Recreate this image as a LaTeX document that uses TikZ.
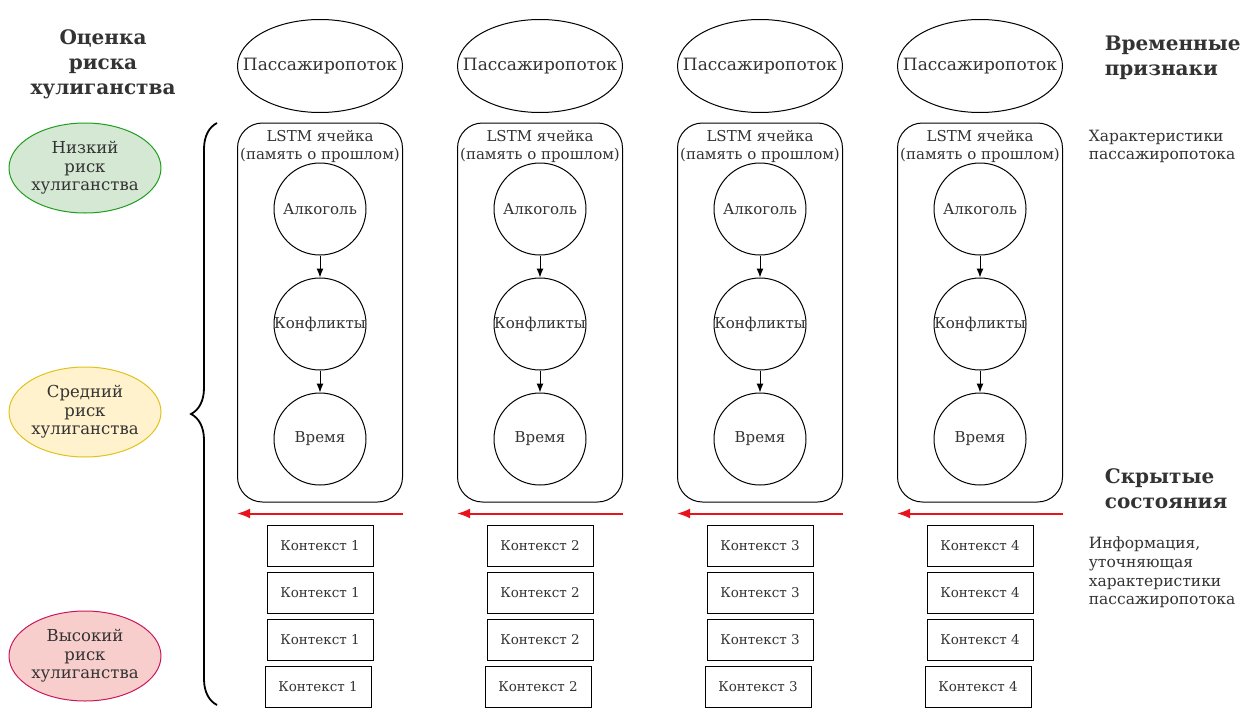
\documentclass[tikz,border=0pt]{standalone}
\usepackage{fontspec}
\setmainfont{DejaVu Serif}
\usetikzlibrary{arrows,arrows.meta,calc,shapes.geometric,decorations.pathreplacing}
\definecolor{txtgray}{HTML}{333333}
\definecolor{lowfill}{HTML}{D5E8D4}
\definecolor{lowline}{HTML}{1E9E1E}
\definecolor{midfill}{HTML}{FFF2CC}
\definecolor{midline}{HTML}{E0C21A}
\definecolor{highfill}{HTML}{F8CECC}
\definecolor{highline}{HTML}{C8185A}
\definecolor{flowred}{HTML}{E8141C}

\begin{document}
\begin{tikzpicture}[x=1pt,y=-1pt,
        %Option for nice arrows%
        >=latex,%
        line width=1pt,%
        every node/.style={text=txtgray, font=\fontsize{15}{18}\selectfont},
        flow/.style={draw, ellipse, minimum width=165pt, minimum height=93pt,
            inner sep=0pt, font=\fontsize{17}{20}\selectfont},
        cell/.style={draw, rounded corners=25pt, minimum width=165pt,
            minimum height=379pt},
        factor/.style={draw, circle, minimum size=92pt, inner sep=0pt},
        context/.style={draw, minimum width=106pt, minimum height=41pt,
            font=\fontsize{13.5}{16}\selectfont},
        risk/.style={ellipse, minimum width=150pt, minimum height=90pt,
            inner sep=0pt, align=center,
            font=\fontsize{16.5}{18.5}\selectfont},
        heading/.style={font=\bfseries\fontsize{20}{25}\selectfont},
        note/.style={align=left, anchor=north west,
            font=\fontsize{15.5}{18.7}\selectfont},
        link/.style={-{Latex[length=9pt,width=7pt]}},
        backflow/.style={-{Latex[length=13pt,width=10pt]}, flowred,
            line width=2pt}
    ]
    \useasboundingbox (0,0) rectangle (1250,707);
    %% some definitions
    \def\colGap{220}  % distance between time steps
    \def\redY{11}     % red arrow below cell
    %
    \foreach \i in {1,...,4}{
        \pgfmathsetmacro\cx{320+\colGap*(\i-1)}
        % input and LSTM cell
        \node[flow] (flow\i) at (\cx,66) {\makebox[0pt]{Пассажиропоток}};
        \node[cell] (cell\i) at (\cx,312.5) {};
        \node[align=center] (lstm\i) at (\cx,146) {LSTM ячейка\\(память о прошлом)};
        \node[factor] (alc\i)  at (\cx,209) {Алкоголь};
        \node[factor] (conf\i) at (\cx,324) {\makebox[0pt]{Конфликты}};
        \node[factor] (time\i) at (\cx,439) {Время};
        \draw[link] (alc\i) -- (conf\i);
        \draw[link] (conf\i) -- (time\i);
        % hidden state passed back
        \coordinate (hsE\i) at ($(cell\i.south east)+(0,\redY)$);
        \coordinate (hsW\i) at ($(cell\i.south west)+(0,\redY)$);
        \draw[backflow] (hsE\i) -- (hsW\i);
        % context boxes
        \foreach \k/\y in {1/546,2/593,3/640}
            \node[context] (ctx\i\k) at (\cx,\y) {Контекст \i};
        \node[context] (ctx\i4) at (\cx-2,687) {Контекст \i};
    }
    %
    \draw[line width=1.8pt, decorate, decoration={brace, amplitude=26pt}]
        (217,705) -- (217,123);
    %
    \node[risk, fill=lowfill, draw=lowline]   (low)  at (85,168) {Низкий\\риск\\хулиганства};
    \node[risk, fill=midfill, draw=midline]   (mid)  at (85,412) {Средний\\риск\\хулиганства};
    \node[risk, fill=highfill, draw=highline] (high) at (85,656) {Высокий\\риск\\хулиганства};
    %
    \node[heading, align=center] (riskhead) at (103,64) {Оценка\\риска\\хулиганства};
    \node[heading, align=left, anchor=west] (timehead) at (1101,58) {Временные\\признаки};
    \node[note] (timenote) at (1085,126) {Характеристики\\пассажиропотока};
    \node[heading, align=left, anchor=west] (hidhead) at (1101,489) {Скрытые\\состояния};
    \node[note] (hidnote) at (1085,533) {Информация,\\уточняющая\\характеристики\\пассажиропотока};
\end{tikzpicture}
\end{document}
